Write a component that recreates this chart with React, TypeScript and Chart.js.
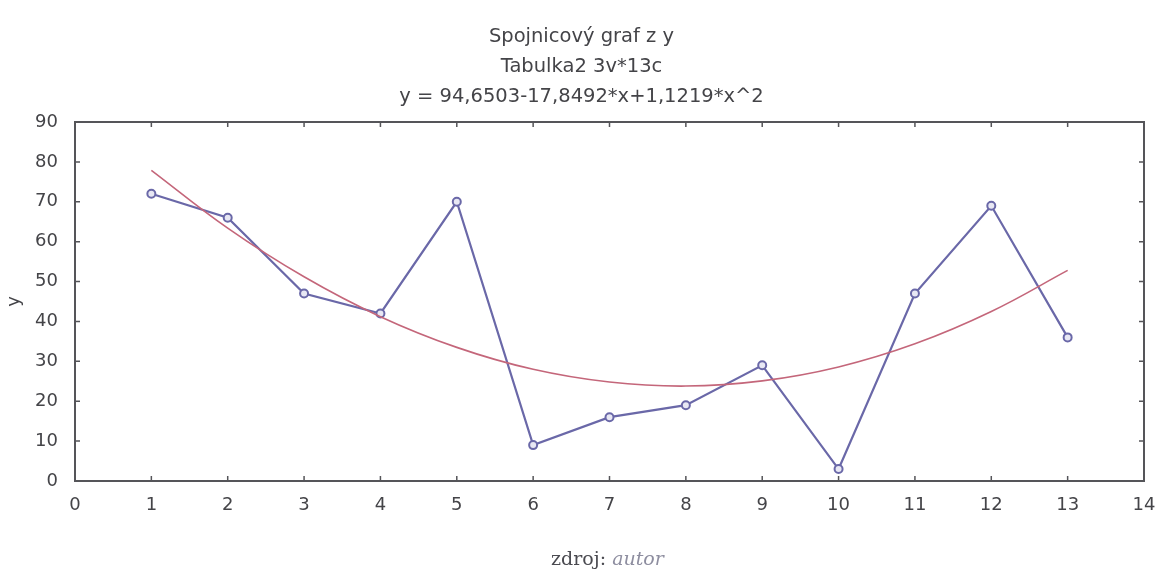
import React, { useEffect, useRef } from "react";
import { Chart, registerables } from "chart.js";

Chart.register(...registerables);

const xValues = [1, 2, 3, 4, 5, 6, 7, 8, 9, 10, 11, 12, 13];
const yValues = [72, 66, 47, 42, 70, 9, 16, 19, 29, 3, 47, 69, 36];
// fitted curve values at each x
const fitValues = [77.9, 63.4, 51.2, 41.2, 33.5, 28.0, 24.8, 23.8, 25.1, 28.6, 34.4, 42.5, 52.8];
const titleLines = ["Spojnicový graf z y", "Tabulka2 3v*13c", "y = 94,6503-17,8492*x+1,1219*x^2"];
const xTicks = [0, 1, 2, 3, 4, 5, 6, 7, 8, 9, 10, 11, 12, 13, 14];
const yTicks = [0, 10, 20, 30, 40, 50, 60, 70, 80, 90];
const yAxisTitle = "y";
const sourceLabel = "zdroj: ";
const sourceValue = "autor";

const FONT = "'DejaVu Sans', sans-serif";
const TEXT = "#444448";
const FRAME = "#555559";

const framePlugin = {
  id: "frameTicks",
  afterDraw(chart: any) {
    const { ctx, chartArea: a, scales } = chart;
    ctx.save();
    ctx.strokeStyle = FRAME;
    ctx.lineWidth = 2;
    ctx.strokeRect(a.left, a.top, a.right - a.left, a.bottom - a.top);
    ctx.lineWidth = 1.5;
    const L = 5;
    ctx.beginPath();
    xTicks.forEach((v) => {
      const px = scales.x.getPixelForValue(v);
      ctx.moveTo(px, a.bottom);
      ctx.lineTo(px, a.bottom - L);
      ctx.moveTo(px, a.top);
      ctx.lineTo(px, a.top + L);
    });
    yTicks.forEach((v) => {
      const py = scales.y.getPixelForValue(v);
      ctx.moveTo(a.left, py);
      ctx.lineTo(a.left + L, py);
      ctx.moveTo(a.right, py);
      ctx.lineTo(a.right - L, py);
    });
    ctx.stroke();
    ctx.restore();
  },
};

export default function App() {
  const ref = useRef<HTMLCanvasElement>(null);
  useEffect(() => {
    const chart = new Chart(ref.current!, {
      type: "line",
      data: {
        datasets: [
          {
            data: xValues.map((x, i) => ({ x, y: fitValues[i] })),
            borderColor: "#c4667a",
            borderWidth: 1.6,
            pointRadius: 0,
            tension: 0.4,
            fill: false,
          },
          {
            data: xValues.map((x, i) => ({ x, y: yValues[i] })),
            borderColor: "#6a68a8",
            borderWidth: 2.2,
            pointRadius: 4,
            pointBorderWidth: 2,
            pointBackgroundColor: "#e8e8f4",
            pointBorderColor: "#6a68a8",
            tension: 0,
            fill: false,
          },
        ],
      },
      options: {
        responsive: false,
        animation: false,
        layout: { padding: { left: 4, right: 0, top: 0, bottom: 0 } },
        plugins: {
          legend: { display: false },
          tooltip: { enabled: false },
          title: {
            display: true,
            text: titleLines,
            color: TEXT,
            font: { family: FONT, size: 19.5, weight: "normal", lineHeight: 30 / 19.5 },
            padding: { top: 22, bottom: 10 },
          },
        },
        scales: {
          x: {
            type: "linear",
            min: 0,
            max: 14,
            grid: { display: false },
            border: { display: false },
            afterBuildTicks: (s: any) => {
              s.ticks = xTicks.map((v) => ({ value: v }));
            },
            ticks: {
              color: TEXT,
              font: { family: FONT, size: 18 },
              padding: 6,
              maxRotation: 0,
              autoSkip: false,
            },
            afterFit: (s: any) => {
              s.height = 574 - 481;
              s.paddingRight = 15;
            },
          },
          y: {
            type: "linear",
            min: 0,
            max: 90,
            grid: { display: false },
            border: { display: false },
            afterBuildTicks: (s: any) => {
              s.ticks = yTicks.map((v) => ({ value: v }));
            },
            ticks: {
              color: TEXT,
              font: { family: FONT, size: 18 },
              padding: 9,
            },
            title: {
              display: true,
              text: yAxisTitle,
              color: TEXT,
              font: { family: FONT, size: 18 },
              padding: 0,
            },
            afterFit: (s: any) => {
              s.width = 71;
            },
          },
        },
      },
      plugins: [framePlugin],
    });
    return () => chart.destroy();
  }, []);

  return (
    <div style={{ position: "fixed", left: 0, top: 0, width: 1159, height: 574, background: "#fff" }}>
      <canvas ref={ref} width={1159} height={574} style={{ display: "block" }} />
      <div
        style={{
          position: "absolute",
          left: 0,
          width: 1159,
          top: 546,
          textAlign: "center",
          fontFamily: "'DejaVu Serif', serif",
          fontSize: 19,
          color: "#4a4a50",
          lineHeight: "24px",
          paddingLeft: 56,
          boxSizing: "border-box",
        }}
      >
        {sourceLabel}
        <span style={{ fontStyle: "italic", color: "#8e8ea0" }}>{sourceValue}</span>
      </div>
    </div>
  );
}
